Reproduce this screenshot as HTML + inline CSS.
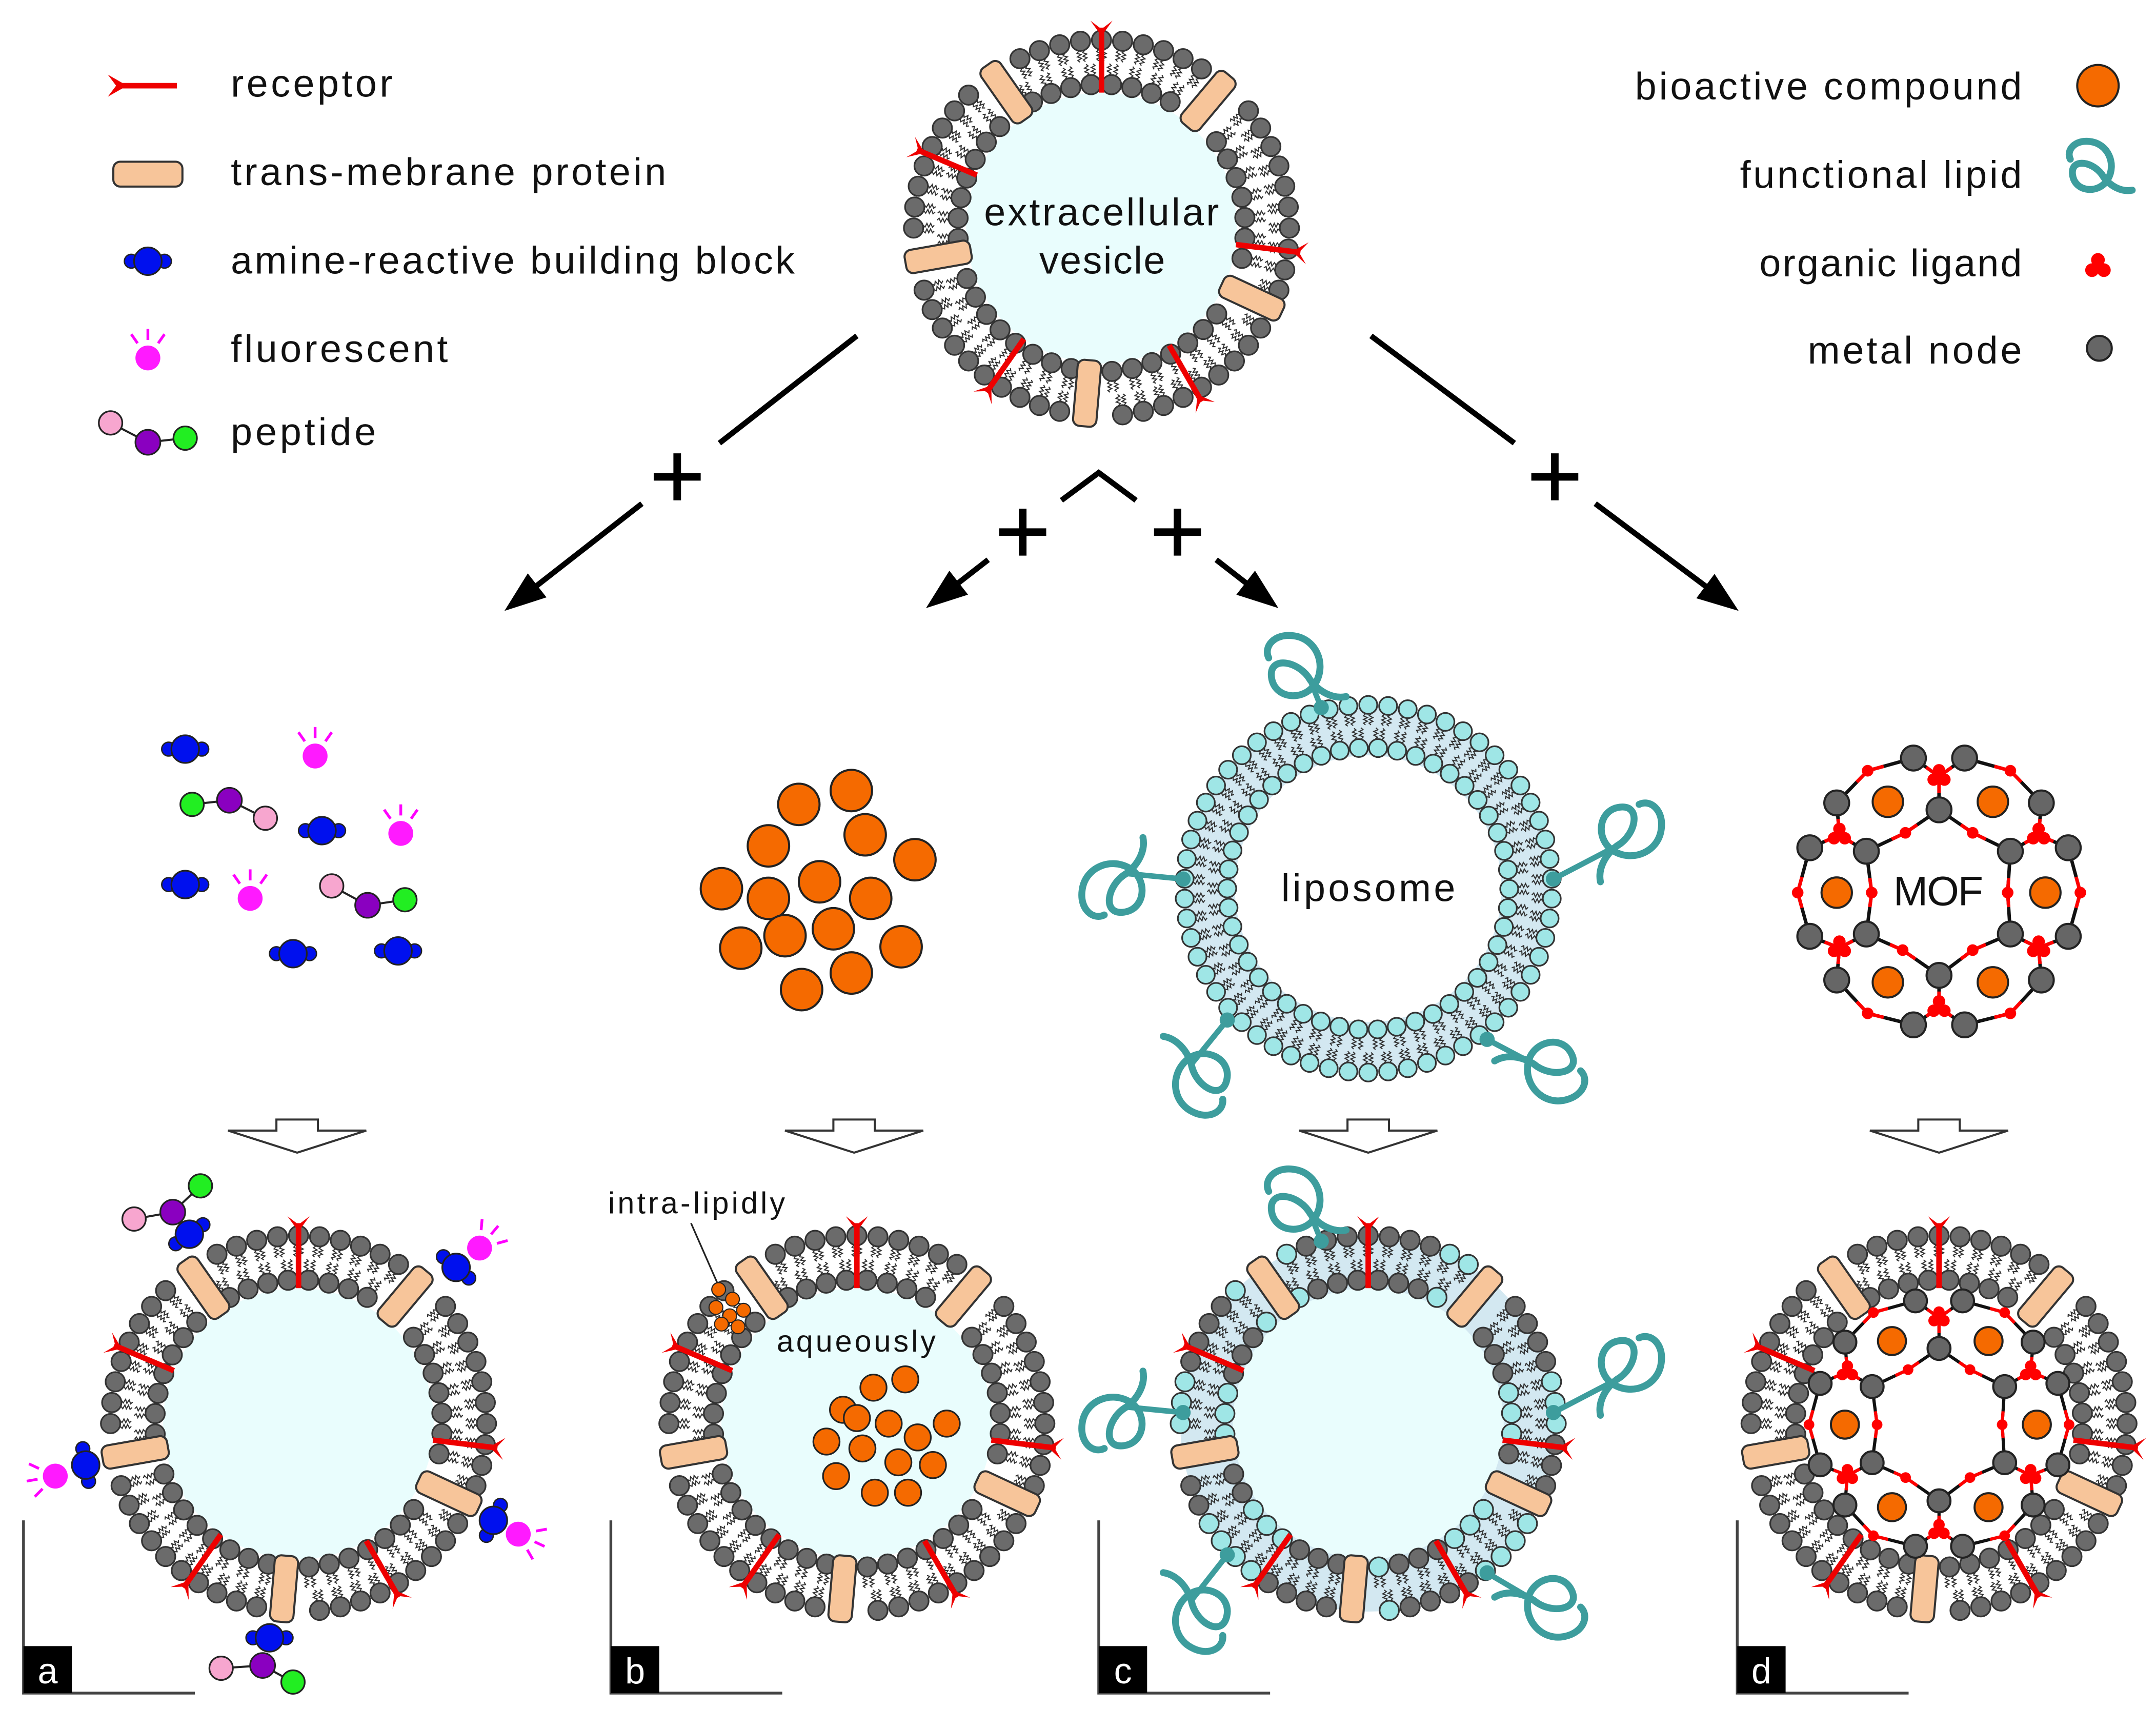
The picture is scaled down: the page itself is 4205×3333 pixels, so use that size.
<!DOCTYPE html>
<html><head><meta charset="utf-8"><style>
html,body{margin:0;padding:0;background:#fff;}
svg{display:block;}
text{font-family:"Liberation Sans",sans-serif;fill:#111;}
</style></head><body>
<svg id="s" xmlns="http://www.w3.org/2000/svg" width="4205" height="3333" viewBox="0 0 1560 1236.5">
<rect width="1560" height="1237" fill="#fff"/>
<g id="shapes"></g>
<g id="txt">
<text x="167" y="70" font-size="28" textLength="117">receptor</text>
<text x="167" y="134" font-size="28" textLength="315">trans-mebrane protein</text>
<text x="167" y="198" font-size="28" textLength="408">amine-reactive building block</text>
<text x="167" y="262" font-size="28" textLength="157">fluorescent</text>
<text x="167" y="322" font-size="28" textLength="105">peptide</text>
<text x="1183" y="72" font-size="28" textLength="280">bioactive compound</text>
<text x="1259" y="136" font-size="28" textLength="204">functional lipid</text>
<text x="1273" y="200" font-size="28" textLength="190">organic ligand</text>
<text x="1308" y="263" font-size="28" textLength="155">metal node</text>
<text x="712" y="163" font-size="28" textLength="170">extracellular</text>
<text x="752" y="198" font-size="28" textLength="91">vesicle</text>
<text x="927" y="652" font-size="28" textLength="126">liposome</text>
<text x="1370" y="655" font-size="30" textLength="65">MOF</text>
<text x="440" y="878" font-size="22" textLength="128">intra-lipidly</text>
<text x="562" y="978" font-size="22" textLength="115">aqueously</text>
</g>
<g id="labels"></g>
</svg>
<script>
const NS='http://www.w3.org/2000/svg';
const G=document.getElementById('shapes');
function el(t,a,p){const e=document.createElementNS(NS,t);for(const k in a)e.setAttribute(k,a[k]);(p||G).appendChild(e);return e;}
const rad=d=>d*Math.PI/180;
function P(cx,cy,r,a){return [cx+r*Math.sin(rad(a)),cy-r*Math.cos(rad(a))];}
function wave(x1,y1,x2,y2){const dx=x2-x1,dy=y2-y1,L=Math.hypot(dx,dy),ux=dx/L,uy=dy/L,nx=-uy,ny=ux;let d='M'+x1.toFixed(1)+' '+y1.toFixed(1);const n=6;for(let i=1;i<=n;i++){const t=i/n*L;const o=(i<n)?(i%2?1.4:-1.4):0;d+='L'+(x1+ux*t+nx*o).toFixed(1)+' '+(y1+uy*t+ny*o).toFixed(1);}return d;}
const GRAY='#6b6b6b',CYAN='#9fe6e6';
function protein(cx,cy,a,r){const [x,y]=P(cx,cy,r,a);el('rect',{x:x-8.5,y:y-24,width:17,height:48,rx:5,fill:'#f7c59a',stroke:'#333','stroke-width':1.5,transform:`rotate(${a} ${x} ${y})`});}
function receptor(cx,cy,a,r1,r2){const [x1,y1]=P(cx,cy,r1,a),[x2,y2]=P(cx,cy,r2,a);el('line',{x1,y1,x2,y2,stroke:'#e00',"stroke-width":4});
 const tip=P(cx,cy,r2-6,a),n=P(cx,cy,r2-1,a),L=8;
 const ux=Math.cos(rad(a)),uy=Math.sin(rad(a));
 const o=P(cx,cy,r2+5,a);
 el('path',{d:`M${tip[0]} ${tip[1]} L${o[0]+ux*L} ${o[1]+uy*L} L${n[0]} ${n[1]} L${o[0]-ux*L} ${o[1]-uy*L}Z`,fill:'#e00'});}
function membrane(cx,cy,o){
 const ro=o.ro||136,ri=o.ri||104,hr=o.hr||7,no=o.no||56,ni=o.ni||44;
 if(o.band)el('circle',{cx,cy,r:ro,fill:o.band});
 el('circle',{cx,cy,r:ri-hr+1,fill:o.inner||'#e9fdfd'});
 const prot=o.proteins||[];
 const near=a=>prot.some(p=>{let d=Math.abs(((a-p)%360+540)%360-180);return d<5.5;});
 let td='';const heads=[];const mid=(ro+ri)/2;
 for(let i=0;i<no;i++){const a=i*360/no+(o.off||0);if(near(a))continue;
   for(const s of [-1,1]){const da=s*2.2/ro*57.3;const p1=P(cx,cy,ro-hr,a+da),p2=P(cx,cy,mid+1,a+da);td+=wave(p1[0],p1[1],p2[0],p2[1]);}
   heads.push([P(cx,cy,ro,a),o.color?o.color(a,1):GRAY]);}
 for(let i=0;i<ni;i++){const a=i*360/ni+(o.off||0)+4;if(near(a))continue;
   for(const s of [-1,1]){const da=s*2.2/ri*57.3;const p1=P(cx,cy,ri+hr,a+da),p2=P(cx,cy,mid-1,a+da);td+=wave(p1[0],p1[1],p2[0],p2[1]);}
   heads.push([P(cx,cy,ri,a),o.color?o.color(a,0):GRAY]);}
 el('path',{d:td,fill:'none',stroke:'#333','stroke-width':0.8});
 for(const h of heads)el('circle',{cx:h[0][0],cy:h[0][1],r:hr,fill:h[1],stroke:'#333','stroke-width':1.2});
 for(const p of prot)protein(cx,cy,p,mid);
 for(const r of (o.receptors||[]))receptor(cx,cy,r,ri-6,ro+9);
}
const PROT=[-35,40,-100,115,185],REC=[0,-67,97,-145,150];
function amine(x,y,a){a=a||0;const u=Math.cos(rad(a)),v=Math.sin(rad(a));
 el('circle',{cx:x-12*u,cy:y-12*v,r:5,fill:'#0010ee',stroke:'#222','stroke-width':1});
 el('circle',{cx:x+12*u,cy:y+12*v,r:5,fill:'#0010ee',stroke:'#222','stroke-width':1});
 el('circle',{cx:x,cy:y,r:10,fill:'#0010ee',stroke:'#222','stroke-width':1.2});}
function fluor(x,y,a){a=a||0;for(const d of [-35,0,35]){const b=a+d;const p1=P(x,y,13,b),p2=P(x,y,21,b);el('line',{x1:p1[0],y1:p1[1],x2:p2[0],y2:p2[1],stroke:'#f0f','stroke-width':2});}
 el('circle',{cx:x,cy:y,r:9,fill:'#ff1aff'});}
function pep(pts){el('polyline',{points:pts.map(p=>p.join(',')).join(' '),fill:'none',stroke:'#222','stroke-width':1.5});
 const c=['#f7a6cf','#8a00c0','#22ee22'];pts.forEach((p,i)=>el('circle',{cx:p[0],cy:p[1],r:i==1?9:8.5,fill:c[i],stroke:'#222','stroke-width':1.2}));}
function plus(x,y){el('path',{d:`M${x-17} ${y}H${x+17}M${x} ${y-17}V${y+17}`,stroke:'#000','stroke-width':5.5});}
function arrow(x1,y1,x2,y2,t0,t1){const dx=x2-x1,dy=y2-y1,L=Math.hypot(dx,dy),ux=dx/L,uy=dy/L;
 const bx=x2-ux*26,by=y2-uy*26;
 if(t0!=null){el('line',{x1,y1,x2:x1+dx*t0,y2:y1+dy*t0,stroke:'#000','stroke-width':4});el('line',{x1:x1+dx*t1,y1:y1+dy*t1,x2:bx,y2:by,stroke:'#000','stroke-width':4});}
 else el('line',{x1,y1,x2:bx,y2:by,stroke:'#000','stroke-width':4});
 el('path',{d:`M${x2} ${y2}L${x2-ux*30-uy*11} ${y2-uy*30+ux*11}L${x2-ux*30+uy*11} ${y2-uy*30-ux*11}Z`,fill:'#000'});}
function hollow(x,y){el('path',{d:`M${x-15} ${y}H${x+15}V${y+8}H${x+50}L${x} ${y+24}L${x-50} ${y+8}H${x-15}Z`,fill:'#fff',stroke:'#333','stroke-width':1.5});}
function squig(x,y,s,rot,hx,hy){const g=el('g',{transform:`translate(${x} ${y}) rotate(${rot}) scale(${s})`});
 el('path',{d:'M0 0 C-8 -14 -30 -18 -28 -2 C-26 14 -4 16 4 2 C12 -12 4 -30 -12 -32 C-26 -34 -34 -24 -30 -16 M0 0 C6 8 16 14 26 12',fill:'none',stroke:'#3d9d9d','stroke-width':5/s,'stroke-linecap':'round'},g);
 if(hx!=null){el('line',{x1:x,y1:y,x2:hx,y2:hy,stroke:'#3d9d9d','stroke-width':4});el('circle',{cx:hx,cy:hy,r:5.5,fill:'#3d9d9d'});}}
function lig(x,y,s){s=s||1;for(const a of [0,120,240]){const p=P(x,y,4.5*s,a);el('circle',{cx:p[0],cy:p[1],r:4.5*s,fill:'#f00'});}}
function mof(cx,cy,s){const M=(zx,zy)=>[cx+(zx-735)*0.1948*s,cy+(zy-730)*0.1664*s];
 const on=[[640,150],[830,150],[355,345],[1115,345],[255,540],[1215,540],[255,925],[1215,925],[355,1115],[1115,1115],[640,1310],[830,1310]];
 const inn=[[735,375],[465,555],[1000,555],[465,915],[1000,915],[735,1095]];
 const L=[[735,230],[365,485],[1105,485],[365,975],[1105,975],[735,1235]];
 const le=[[L[0],on[0]],[L[0],on[1]],[L[0],inn[0]],[L[1],on[2]],[L[1],on[4]],[L[1],inn[1]],[L[2],on[3]],[L[2],on[5]],[L[2],inn[2]],[L[3],on[6]],[L[3],inn[3]],[L[3],on[8]],[L[4],on[7]],[L[4],inn[4]],[L[4],on[9]],[L[5],inn[5]],[L[5],on[10]],[L[5],on[11]]];
 for(const [a,b] of le){const p=M(...a),q=M(...b);const m=[(p[0]+q[0])/2,(p[1]+q[1])/2];
   el('line',{x1:p[0],y1:p[1],x2:q[0],y2:q[1],stroke:'#111','stroke-width':2.5*s});
   el('line',{x1:p[0],y1:p[1],x2:m[0],y2:m[1],stroke:'#f00','stroke-width':2.5*s});}
 const de=[[on[0],[470,205],on[2]],[on[1],[1000,205],on[3]],[inn[0],[610,475],inn[1]],[inn[0],[860,475],inn[2]],[on[4],[210,735],on[6]],[inn[1],[485,735],inn[3]],[inn[2],[990,735],inn[4]],[on[5],[1260,735],on[7]],[inn[3],[600,985],inn[5]],[inn[4],[860,985],inn[5]],[on[8],[470,1260],on[10]],[on[9],[1000,1260],on[11]]];
 for(const [a,d,b] of de){const p=M(...a),m=M(...d),q=M(...b);
   el('polyline',{points:`${p} ${m} ${q}`,fill:'none',stroke:'#111','stroke-width':2.5*s});
   const r1=[m[0]+(p[0]-m[0])*0.35,m[1]+(p[1]-m[1])*0.35],r2=[m[0]+(q[0]-m[0])*0.35,m[1]+(q[1]-m[1])*0.35];
   el('polyline',{points:`${r1} ${m} ${r2}`,fill:'none',stroke:'#f00','stroke-width':2.5*s});
   el('circle',{cx:m[0],cy:m[1],r:4.2*s,fill:'#f00'});}
 for(const l of L){const p=M(...l);lig(p[0],p[1],s);}
 for(const n of on.concat(inn)){const p=M(...n);el('circle',{cx:p[0],cy:p[1],r:9*s,fill:'#666',stroke:'#222','stroke-width':1.5});}
 for(const c of [[545,340],[935,340],[355,735],[1130,735],[545,1125],[935,1125]]){const p=M(...c);el('circle',{cx:p[0],cy:p[1],r:11*s,fill:'#f56a00',stroke:'#222','stroke-width':1.5});}
}
el('line',{x1:86,y1:62,x2:128,y2:62,stroke:'#e00','stroke-width':4});
el('path',{d:'M92 62 L78 54 L84 62 L78 70Z',fill:'#e00'});
el('rect',{x:82,y:117,width:50,height:18,rx:5,fill:'#f7c59a',stroke:'#333','stroke-width':1.5});
amine(107,189,0);
fluor(107,259,0);
pep([[80,306],[107,320],[134,317]]);
el('circle',{cx:1518,cy:62,r:15,fill:'#f56a00',stroke:'#222','stroke-width':1.5});
squig(1522,128,0.8,0,null,null);
lig(1518,193,1.1);
el('circle',{cx:1519,cy:252,r:9,fill:'#666',stroke:'#222','stroke-width':1.5});
membrane(797,165,{proteins:PROT,receptors:REC});
arrow(620,243,365,442,0.39,0.61); plus(490,345);
arrow(992,243,1258,442,0.39,0.61); plus(1125,345);
el('polyline',{points:'768,362 795,342 822,362',fill:'none',stroke:'#000','stroke-width':4});
arrow(715,405,670,440); arrow(880,405,925,440);
plus(740,385); plus(852,385);
for(const p of [[134,542],[233,601],[134,640],[212,690],[288,688]])amine(p[0],p[1],0);
for(const p of [[228,547],[290,603],[181,650]])fluor(p[0],p[1],0);
pep([[192,592],[166,579],[139,582]]);
pep([[240,641],[266,655],[293,651]]);
for(const p of [[578,582],[616,572],[556,612],[626,604],[662,622],[522,643],[556,650],[593,638],[630,650],[568,677],[603,672],[536,686],[652,685],[580,716],[616,704]])el('circle',{cx:p[0],cy:p[1],r:15,fill:'#f56a00',stroke:'#222','stroke-width':1.5});
membrane(990,643,{ro:133,ri:102,hr:6.5,no:58,ni:46,band:'#d3e8f1',inner:'#fff',color:()=>CYAN});
squig(948,492,1,0,956,512); squig(815,632,1,-90,856,636); squig(1170,612,1,90,1124,636); squig(862,770,1,200,888,738); squig(1110,770,1,160,1076,752);
mof(1403,645,1);
for(const x of [215,618,990,1403])hollow(x,810);
membrane(216,1030,{proteins:PROT,receptors:REC});
amine(137,893,-35);pep([[97,882],[125,877],[145,858]]);
amine(330,917,40);fluor(347,903,40);
amine(62,1060,-100);fluor(40,1068,-100);
amine(357,1100,115);fluor(375,1110,115);
amine(195,1185,180);pep([[160,1207],[190,1205],[212,1217]]);
membrane(620,1030,{proteins:PROT,receptors:REC});
el('line',{x1:500,y1:885,x2:522,y2:935,stroke:'#222','stroke-width':1.2});
for(const p of [[520,933],[530,940],[518,946],[528,952],[538,948],[522,958],[534,960]])el('circle',{cx:p[0],cy:p[1],r:5,fill:'#f56a00',stroke:'#222','stroke-width':0.8});
for(const p of [[632,1004],[655,998],[610,1020],[643,1030],[685,1030],[598,1043],[624,1048],[650,1058],[605,1068],[633,1080],[657,1080],[675,1060],[620,1026],[664,1040]])el('circle',{cx:p[0],cy:p[1],r:9.5,fill:'#f56a00',stroke:'#222','stroke-width':1.2});
membrane(990,1030,{proteins:PROT,receptors:REC,band:'#d3e8f1',color:(a,o)=>{const k=Math.floor(((a%360)+360)%360/24);return k%2?CYAN:GRAY;}});
squig(948,878,1,0,956,898); squig(815,1018,1,-90,856,1022); squig(1170,998,1,90,1124,1022); squig(862,1158,1,200,888,1125); squig(1110,1158,1,160,1076,1138);
membrane(1403,1030,{proteins:PROT,receptors:REC,inner:'#fff'});
mof(1403,1030,0.92);
const LB=document.getElementById('labels');
[[17,'a'],[442,'b'],[795,'c'],[1257,'d']].forEach(([x,t])=>{
 el('path',{d:`M${x} 1100V1225H${x+124}`,fill:'none',stroke:'#444','stroke-width':2},LB);
 el('rect',{x:x,y:1191,width:35,height:34,fill:'#000'},LB);
 const tx=el('text',{x:x+17.5,y:1218,'font-size':26,'text-anchor':'middle',fill:'#fff'},LB);tx.style.fill='#fff';tx.textContent=t;});
</script>
</body></html>
